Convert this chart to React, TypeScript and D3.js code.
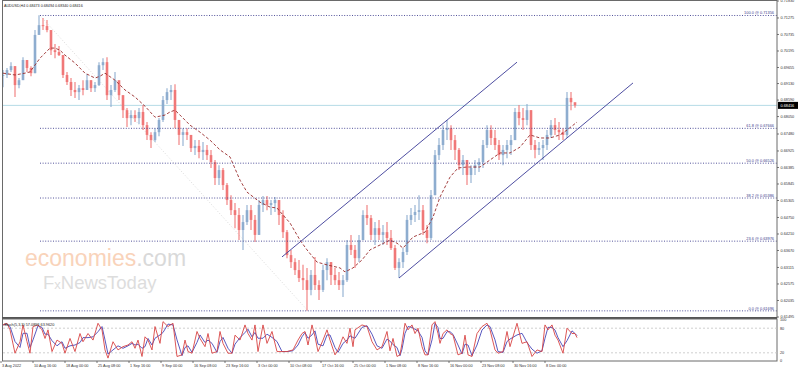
import React from 'react';
import * as d3 from 'd3';

const W = 798;
const H = 372;

const symbolTitle = 'AUDUSD,H4  0.68473 0.68494 0.68340 0.68416';
const stochTitle = 'Stoch(5,3,3) 57.0893 63.9620';
const lastPrice = 0.68416;

// one sample every 4 H4 bars
const barStep = 4;
const highs = [
  0.6957, 0.6964, 0.6983, 0.6970, 0.6931, 0.6999, 0.6990, 0.6970, 0.7088, 0.7136,
  0.7127, 0.7121, 0.7055, 0.7042, 0.7036, 0.7006, 0.6951, 0.6931, 0.6918, 0.6908,
  0.6924, 0.6944, 0.6924, 0.6918, 0.6983, 0.6996, 0.6999, 0.6908, 0.6951, 0.6918,
  0.6875, 0.6833, 0.6826, 0.6826, 0.6833, 0.6843, 0.6787, 0.6754, 0.6767, 0.6800,
  0.6872, 0.6898, 0.6908, 0.6911, 0.6777, 0.6767, 0.6767, 0.6741, 0.6728, 0.6728,
  0.6722, 0.6712, 0.6696, 0.6663, 0.6646, 0.6637, 0.6588, 0.6548, 0.6522, 0.6506,
  0.6483, 0.6516, 0.6516, 0.6483, 0.6532, 0.6545, 0.6545, 0.6532, 0.6542, 0.6532,
  0.6499, 0.6434, 0.6369, 0.6342, 0.6336, 0.6320, 0.6310, 0.6303, 0.6346, 0.6270,
  0.6320, 0.6342, 0.6329, 0.6310, 0.6297, 0.6287, 0.6401, 0.6418, 0.6385, 0.6418,
  0.6499, 0.6516, 0.6483, 0.6460, 0.6467, 0.6450, 0.6460, 0.6434, 0.6385, 0.6342,
  0.6375, 0.6483, 0.6506, 0.6516, 0.6548, 0.6516, 0.6450, 0.6565, 0.6696, 0.6735,
  0.6777, 0.6794, 0.6777, 0.6745, 0.6702, 0.6679, 0.6663, 0.6646, 0.6663, 0.6669,
  0.6728, 0.6777, 0.6777, 0.6761, 0.6728, 0.6712, 0.6728, 0.6745, 0.6833, 0.6843,
  0.6833, 0.6846, 0.6826, 0.6728, 0.6722, 0.6728, 0.6761, 0.6794, 0.6800, 0.6787,
  0.6767, 0.6885, 0.6885, 0.6849,
];
const lows = [
  0.6901, 0.6931, 0.6951, 0.6869, 0.6898, 0.6951, 0.6951, 0.6937, 0.6947, 0.7081,
  0.7088, 0.7081, 0.7006, 0.6996, 0.7003, 0.6931, 0.6908, 0.6872, 0.6866, 0.6859,
  0.6875, 0.6898, 0.6885, 0.6885, 0.6905, 0.6957, 0.6859, 0.6836, 0.6885, 0.6859,
  0.6800, 0.6771, 0.6777, 0.6787, 0.6781, 0.6761, 0.6728, 0.6702, 0.6722, 0.6741,
  0.6787, 0.6846, 0.6859, 0.6767, 0.6712, 0.6709, 0.6728, 0.6689, 0.6679, 0.6669,
  0.6663, 0.6663, 0.6637, 0.6581, 0.6581, 0.6565, 0.6516, 0.6483, 0.6440, 0.6401,
  0.6369, 0.6450, 0.6434, 0.6395, 0.6418, 0.6493, 0.6499, 0.6483, 0.6493, 0.6450,
  0.6408, 0.6342, 0.6310, 0.6287, 0.6264, 0.6238, 0.6170, 0.6221, 0.6238, 0.6205,
  0.6231, 0.6270, 0.6254, 0.6254, 0.6238, 0.6215, 0.6264, 0.6352, 0.6310, 0.6329,
  0.6401, 0.6450, 0.6401, 0.6385, 0.6401, 0.6385, 0.6385, 0.6369, 0.6303, 0.6277,
  0.6310, 0.6352, 0.6450, 0.6460, 0.6467, 0.6418, 0.6391, 0.6401, 0.6548, 0.6663,
  0.6696, 0.6728, 0.6696, 0.6663, 0.6630, 0.6614, 0.6581, 0.6588, 0.6614, 0.6624,
  0.6637, 0.6702, 0.6712, 0.6696, 0.6663, 0.6646, 0.6669, 0.6679, 0.6728, 0.6777,
  0.6761, 0.6777, 0.6696, 0.6669, 0.6679, 0.6663, 0.6696, 0.6735, 0.6745, 0.6728,
  0.6728, 0.6735, 0.6826, 0.6834,
];
const closes = [
  0.6941, 0.6957, 0.6970, 0.6908, 0.6924, 0.6990, 0.6964, 0.6947, 0.7072, 0.7104,
  0.7101, 0.7088, 0.7022, 0.7016, 0.7006, 0.6941, 0.6918, 0.6892, 0.6885, 0.6898,
  0.6892, 0.6924, 0.6898, 0.6908, 0.6973, 0.6983, 0.6875, 0.6892, 0.6924, 0.6875,
  0.6826, 0.6800, 0.6810, 0.6800, 0.6820, 0.6777, 0.6745, 0.6728, 0.6754, 0.6794,
  0.6859, 0.6885, 0.6892, 0.6794, 0.6745, 0.6754, 0.6745, 0.6702, 0.6709, 0.6689,
  0.6696, 0.6679, 0.6656, 0.6604, 0.6630, 0.6581, 0.6532, 0.6499, 0.6483, 0.6434,
  0.6460, 0.6499, 0.6467, 0.6418, 0.6516, 0.6532, 0.6516, 0.6522, 0.6532, 0.6483,
  0.6427, 0.6352, 0.6329, 0.6303, 0.6277, 0.6270, 0.6238, 0.6287, 0.6254, 0.6238,
  0.6303, 0.6329, 0.6287, 0.6270, 0.6254, 0.6270, 0.6385, 0.6369, 0.6342, 0.6401,
  0.6483, 0.6473, 0.6418, 0.6440, 0.6418, 0.6427, 0.6408, 0.6375, 0.6310, 0.6329,
  0.6362, 0.6467, 0.6483, 0.6493, 0.6499, 0.6434, 0.6408, 0.6548, 0.6679, 0.6712,
  0.6761, 0.6767, 0.6728, 0.6696, 0.6646, 0.6663, 0.6614, 0.6637, 0.6646, 0.6656,
  0.6712, 0.6761, 0.6735, 0.6712, 0.6679, 0.6696, 0.6712, 0.6728, 0.6820, 0.6800,
  0.6794, 0.6826, 0.6712, 0.6696, 0.6702, 0.6712, 0.6745, 0.6777, 0.6761, 0.6754,
  0.6745, 0.6866, 0.6852, 0.68416,
];

// dashed moving average, [bar index] and value
const maBars = [
  0, 12, 22, 27, 37, 47, 52, 57, 62, 72, 82, 92, 97, 102, 112, 122, 132, 142, 152, 162,
  167, 172, 177, 187, 197, 207, 217, 227, 237, 244, 257, 267, 274, 280, 287, 297, 304, 314,
  324, 337, 342, 350, 359, 367, 377, 387, 394, 400, 410, 422, 430, 437, 447, 455, 464, 477,
  487, 497, 507, 517, 527, 537, 547, 557, 564, 574,
];
const maValues = [
  0.6947, 0.6941, 0.6947, 0.6951, 0.6996, 0.7029, 0.7029, 0.7022, 0.7006, 0.6980, 0.6947,
  0.6931, 0.6937, 0.6947, 0.6924, 0.6892, 0.6869, 0.6839, 0.6803, 0.6810, 0.6820, 0.6826,
  0.6810, 0.6777, 0.6754, 0.6728, 0.6696, 0.6673, 0.6597, 0.6558, 0.6525, 0.6509, 0.6506,
  0.6483, 0.6457, 0.6401, 0.6369, 0.6329, 0.6320, 0.6310, 0.6297, 0.6310, 0.6336, 0.6369,
  0.6385, 0.6401, 0.6391, 0.6375, 0.6411, 0.6427, 0.6476, 0.6542, 0.6607, 0.6637, 0.6640,
  0.6640, 0.6663, 0.6686, 0.6686, 0.6705, 0.6745, 0.6735, 0.6735, 0.6745, 0.6761, 0.6787,
];

// fibonacci retracement
const fibHigh = 0.71356;
const fibLow = 0.61696;
const fibHighBar = 37;
const fibLowBar = 305;
const fibLevels = [100, 61.8, 50, 38.2, 23.6, 0];

// rising channel: [bar, price]
const upperChannel: [number, number][] = [[279, 0.6346], [514, 0.6983]];
const lowerChannel: [number, number][] = [[396, 0.6277], [630, 0.6915]];

const priceTicks = [
  0.7183, 0.71275, 0.70735, 0.70195, 0.69655, 0.6913, 0.6859, 0.6805, 0.6748, 0.66925,
  0.66385, 0.65845, 0.65305, 0.6475, 0.6421, 0.6367, 0.63115, 0.62575, 0.62035, 0.61495,
];
const timeLabels = [
  '3 Aug 2022', '10 Aug 16:00', '18 Aug 00:00', '25 Aug 08:00', '1 Sep 16:00', '9 Sep 00:00',
  '16 Sep 08:00', '23 Sep 16:00', '3 Oct 00:00', '10 Oct 08:00', '17 Oct 16:00', '25 Oct 00:00',
  '1 Nov 08:00', '8 Nov 16:00', '16 Nov 00:00', '23 Nov 08:00', '30 Nov 16:00', '8 Dec 00:00',
];
const firstLabelBar = -2;
const labelEvery = 32;

// stochastic %K, [bar index] and value
const stochBars = [
  0, 4, 7, 12, 17, 20, 24, 27, 30, 35, 39, 42, 45, 49, 54, 59, 62, 67, 72, 77, 80, 85, 90,
  95, 99, 102, 105, 110, 115, 120, 125, 129, 132, 135, 139, 142, 145, 149, 152, 157, 160,
  165, 170, 174, 179, 182, 185, 189, 194, 197, 202, 205, 209, 214, 217, 220, 225, 229, 232,
  237, 242, 245, 249, 252, 255, 260, 264, 269, 274, 279, 284, 290, 295, 299, 302, 305, 309,
  312, 315, 320, 324, 327, 332, 335, 340, 344, 347, 350, 352, 359, 364, 369, 374, 379, 384,
  387, 390, 394, 397, 399, 402, 405, 409, 412, 415, 419, 422, 425, 429, 432, 435, 437, 440,
  444, 447, 450, 455, 459, 462, 465, 469, 474, 479, 484, 487, 492, 495, 500, 504, 507, 514,
  519, 524, 529, 534, 539, 542, 545, 549, 552, 555, 560, 564, 569, 572, 574,
];
const stochK = [
  88, 92, 76, 19, 47, 88, 47, 19, 84, 88, 76, 55, 76, 23, 51, 43, 19, 55, 23, 67, 47, 67, 51,
  92, 76, 27, 7, 47, 27, 35, 39, 47, 31, 51, 11, 59, 51, 27, 84, 43, 96,
  84, 92, 11, 15, 51, 23, 19, 72, 55, 35, 67, 19, 23, 72, 43, 19, 19, 63,
  51, 88, 67, 51, 88, 23, 88, 43, 72, 23, 23, 23, 27, 51, 67, 72, 39, 88,
  59, 23, 51, 76, 51, 15, 27, 59, 43, 80, 35, 76, 88, 84, 47, 27, 35, 72,
  25, 55, 11, 15, 43, 92, 76, 88, 67, 80, 35, 15, 15, 88, 96, 67, 43, 67,
  76, 67, 63, 15, 19, 63, 15, 11, 67, 84, 92, 76, 27, 19, 23, 72, 35, 92,
  43, 47, 11, 27, 23, 88, 76, 88, 63, 51, 19, 80, 67, 67, 57,
];
const stochLevels = [80, 20];

const plot = { left: 3, right: 777, top: 1, bottom: 317, stochTop: 320, stochBottom: 361 };
const font = '"Liberation Sans", Arial, sans-serif';
const bullColor = '#8eadcf';
const bearColor = '#f07878';
const fibColor = '#40408e';

export default function App() {
  const x = d3.scaleLinear().domain([0, plot.right - plot.left]).range([plot.left, plot.right]);
  const y = d3.scaleLinear().domain([0.61495, 0.7183]).range([plot.bottom, plot.top]);
  const ys = d3.scaleLinear().domain([0, 100]).range([plot.stochBottom, plot.stochTop]);

  const candles = closes.map((c, i) => ({
    bar: i * barStep,
    high: highs[i],
    low: lows[i],
    close: c,
    open: i > 0 ? closes[i - 1] : c,
  }));

  const maPath = d3.line<number>()
    .x((_, i) => x(maBars[i]))
    .y(d => y(d))(maValues) || '';

  // signal line = short average of %K
  const signal = stochK.map((v, i) => (i > 0 ? (v + stochK[i - 1]) / 2 : v));
  const stochLine = (vals: number[]) => d3.line<number>()
    .x((_, i) => x(stochBars[i]))
    .y(d => ys(d))(vals) || '';

  const fibX0 = x(fibHighBar);
  const lastY = y(lastPrice);

  return (
    <svg width={W} height={H} style={{ position: 'absolute', left: 0, top: 0, display: 'block', background: '#fff' }}
      fontFamily={font}>
      <defs>
        <clipPath id="mainClip">
          <rect x={plot.left} y={plot.top} width={plot.right - plot.left} height={plot.bottom - plot.top} />
        </clipPath>
        <clipPath id="stochClip">
          <rect x={plot.left} y={plot.bottom + 2} width={plot.right - plot.left} height={plot.stochBottom - plot.bottom - 2} />
        </clipPath>
      </defs>

      {/* watermark */}
      <text x={25} y={266} fontSize={23}>
        <tspan fill="#f9d3ba">economies</tspan><tspan fill="#d9d9d9">.com</tspan>
      </text>
      <text x={43} y={289} fontSize={18.5} fill="#dddddd">
        F<tspan fontSize={13}>x</tspan>NewsToday
      </text>

      <g clipPath="url(#mainClip)">
        <line x1={plot.left} x2={plot.right} y1={lastY} y2={lastY} stroke="#b6dbe6" strokeWidth={1} />

        {/* fib diagonal */}
        <line x1={x(fibHighBar)} y1={y(fibHigh)} x2={x(fibLowBar)} y2={y(fibLow)}
          stroke="#d0d0d0" strokeWidth={0.8} strokeDasharray="1,2" />

        {candles.map((c, i) => {
          const col = c.close >= c.open ? bullColor : bearColor;
          const top = y(Math.max(c.open, c.close));
          const bot = y(Math.min(c.open, c.close));
          return (
            <g key={i}>
              <line x1={x(c.bar)} x2={x(c.bar)} y1={y(c.high)} y2={y(c.low)} stroke={col} strokeWidth={1.1} />
              <rect x={x(c.bar) - 1.3} y={top} width={2.6} height={Math.max(1, bot - top)} fill={col} />
            </g>
          );
        })}

        <path d={maPath} fill="none" stroke="#992a2a" strokeWidth={0.9} strokeDasharray="3,2" />

        {fibLevels.map(lv => {
          const py = y(fibLow + (fibHigh - fibLow) * lv / 100);
          return (
            <line key={lv} x1={fibX0} x2={plot.right} y1={py} y2={py}
              stroke={fibColor} strokeWidth={0.9} strokeDasharray="1,1.6" />
          );
        })}

        {[upperChannel, lowerChannel].map((ch, i) => (
          <line key={i} x1={x(ch[0][0])} y1={y(ch[0][1])} x2={x(ch[1][0])} y2={y(ch[1][1])}
            stroke="#3a3a96" strokeWidth={0.9} />
        ))}
      </g>

      {fibLevels.map(lv => {
        const p = fibLow + (fibHigh - fibLow) * lv / 100;
        return (
          <text key={lv} x={plot.right - 3} y={y(p) - 1.2} fontSize={3.9} fill={fibColor} textAnchor="end">
            {`${lv.toFixed(1)} @ ${p.toFixed(5)}`}
          </text>
        );
      })}

      {/* frames */}
      <rect x={plot.left - 0.5} y={0.5} width={plot.right - plot.left + 0.5} height={plot.bottom}
        fill="none" stroke="#6a6a6a" strokeWidth={1} />
      <line x1={plot.left - 1} x2={plot.right} y1={plot.bottom + 1} y2={plot.bottom + 1} stroke="#555" strokeWidth={2} />
      <rect x={plot.left - 0.5} y={plot.bottom + 2} width={plot.right - plot.left + 0.5} height={plot.stochBottom - plot.bottom - 2}
        fill="none" stroke="#6a6a6a" strokeWidth={1} />

      <text x={4} y={6.5} fontSize={3.7} fill="#222">{symbolTitle}</text>

      {/* price axis */}
      {priceTicks.map(t => (
        <g key={t}>
          <line x1={plot.right} x2={plot.right + 2} y1={y(t)} y2={y(t)} stroke="#555" strokeWidth={0.8} />
          <text x={plot.right + 3.5} y={y(t) + 1.4} fontSize={3.8} fill="#333">{t.toFixed(5)}</text>
        </g>
      ))}
      <rect x={plot.right + 1} y={lastY - 3.5} width={20} height={7} fill="#000" />
      <text x={plot.right + 3.5} y={lastY + 1.4} fontSize={3.8} fill="#fff">{lastPrice.toFixed(5)}</text>

      {/* stochastic */}
      {stochLevels.map(lv => (
        <line key={lv} x1={plot.left} x2={plot.right} y1={ys(lv)} y2={ys(lv)} stroke="#c4c4c4" strokeWidth={0.8} strokeDasharray="2,2" />
      ))}
      <g clipPath="url(#stochClip)">
        <path d={stochLine(signal)} fill="none" stroke="#4646b8" strokeWidth={0.9} />
        <path d={stochLine(stochK)} fill="none" stroke="#d84444" strokeWidth={0.9} />
      </g>
      <text x={4} y={325.5} fontSize={3.8} fill="#222">{stochTitle}</text>
      {[100, 80, 20, 0].map(v => (
        <text key={v} x={plot.right + 3} y={ys(v) + 1.4} fontSize={3.8} fill="#333">{v}</text>
      ))}

      {/* time axis */}
      {timeLabels.map((lab, i) => {
        const bx = x(firstLabelBar + i * labelEvery);
        return (
          <g key={lab}>
            <line x1={bx} x2={bx} y1={plot.stochBottom} y2={plot.stochBottom + 2} stroke="#555" strokeWidth={0.8} />
            <text x={bx + 1} y={367} fontSize={3.8} fill="#333">{lab}</text>
          </g>
        );
      })}
    </svg>
  );
}
